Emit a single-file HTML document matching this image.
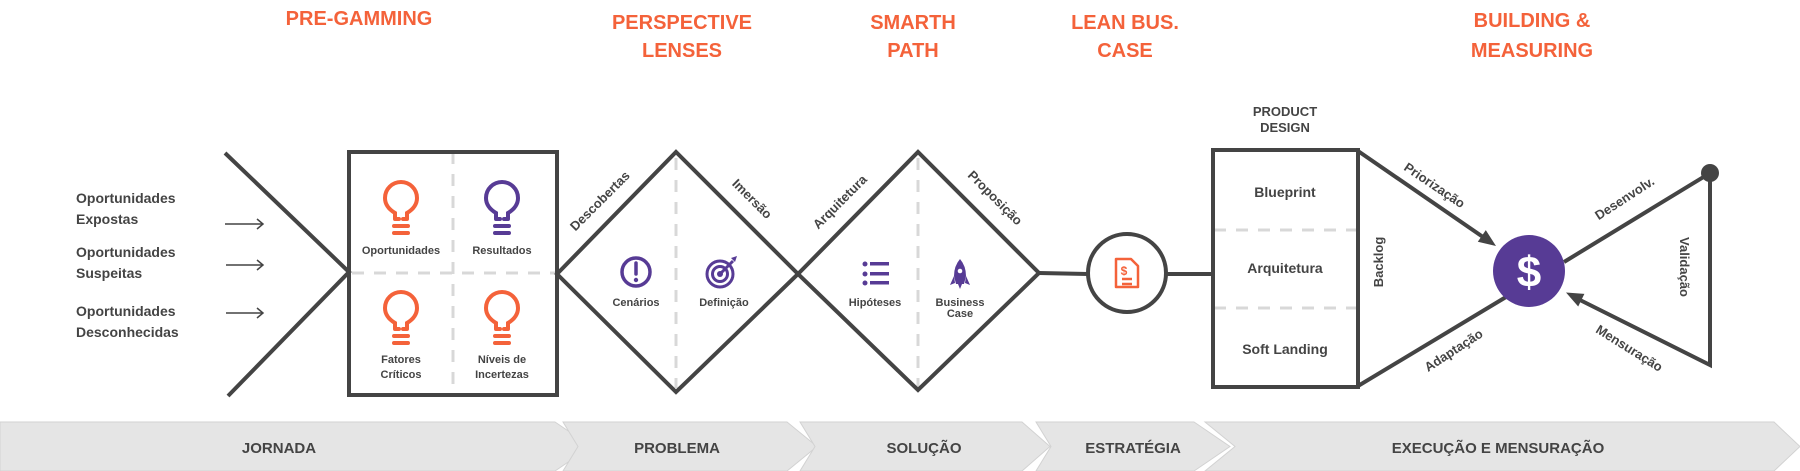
<!DOCTYPE html>
<html><head><meta charset="utf-8"><style>
html,body{margin:0;padding:0;background:#fff;}
svg{display:block}
text{font-family:"Liberation Sans",sans-serif;font-weight:bold;}
</style></head><body>
<svg width="1800" height="471" viewBox="0 0 1800 471" xmlns="http://www.w3.org/2000/svg">
<defs>
<g id="bulb" fill="none" stroke-linecap="round" stroke-width="4">
<path d="M -6 6 V 0 Q -16 -6 -16 -15 A 16 16 0 1 1 16 -15 Q 16 -6 6 0 V 6 M -6 6 H -2 M 6 6 H 2"/>
<path d="M -7 13 H 7 M -7 20 H 7"/>
</g>
</defs>
<g fill="#f4623a" font-size="20" text-anchor="middle">
<text x="359" y="25">PRE-GAMMING</text>
<text x="682" y="29">PERSPECTIVE</text><text x="682" y="57">LENSES</text>
<text x="913" y="29">SMARTH</text><text x="913" y="57">PATH</text>
<text x="1125" y="29">LEAN BUS.</text><text x="1125" y="57">CASE</text>
<text x="1532" y="27">BUILDING &amp;</text><text x="1532" y="57">MEASURING</text>
</g>
<g fill="#444" font-size="14">
<text x="76" y="203">Oportunidades</text><text x="76" y="224">Expostas</text>
<text x="76" y="257">Oportunidades</text><text x="76" y="278">Suspeitas</text>
<text x="76" y="316">Oportunidades</text><text x="76" y="337">Desconhecidas</text>
</g>
<g stroke="#444" stroke-width="1.5" fill="none">
<path d="M225 224 H263 M257 219 L263 224 L257 229"/>
<path d="M226 265 H263 M257 260 L263 265 L257 270"/>
<path d="M226 313 H263 M257 308 L263 313 L257 318"/>
</g>
<g stroke="#d8d8d8" stroke-width="3" stroke-dasharray="12 10" fill="none">
<path d="M453 152 V395"/><path d="M352 273 H556"/>
<path d="M676 158 V388"/><path d="M918 158 V388"/>
<path d="M1214 230 H1356"/><path d="M1214 308 H1356"/>
</g>
<g stroke="#444" stroke-width="4" fill="none" stroke-linejoin="miter">
<path d="M225 153 L349 272 L228 396"/>
<rect x="349" y="152" width="208" height="243"/>
<path d="M557 274 L676 152 L798 274 L676 392 Z"/>
<path d="M798 274 L918 152 L1039 273 L918 390 Z"/>
<path d="M1039 273 L1088 274 M1166 274 H1213"/>
<circle cx="1127" cy="273" r="39"/>
<rect x="1213" y="150" width="145" height="237"/>
<path d="M1358 151 L1483 237"/>
<path d="M1358 386 L1506 297"/>
<path d="M1564 262 L1710 173 V365 L1580 300"/>
</g>
<circle cx="1710" cy="173" r="9" fill="#444"/>
<path d="M1496 246 L1477.8 241.7 L1485.8 230.1 Z" fill="#444"/>
<path d="M1566 292.5 L1584.4 293.9 L1578.2 306.5 Z" fill="#444"/>
<circle cx="1529" cy="271" r="36" fill="#573b95"/>
<text x="1529" y="287" fill="#fff" font-size="44" text-anchor="middle">$</text>
<use href="#bulb" x="401" y="213" stroke="#f4623a"/>
<use href="#bulb" x="502" y="213" stroke="#573b95"/>
<use href="#bulb" x="401" y="323" stroke="#f4623a"/>
<use href="#bulb" x="502" y="323" stroke="#f4623a"/>
<g fill="#444" font-size="11" text-anchor="middle">
<text x="401" y="254">Oportunidades</text><text x="502" y="254">Resultados</text>
<text x="401" y="363">Fatores</text><text x="401" y="378">Críticos</text>
<text x="502" y="363">Níveis de</text><text x="502" y="378">Incertezas</text>
<text x="636" y="306">Cenários</text><text x="724" y="306">Definição</text>
<text x="875" y="306">Hipóteses</text>
<text x="960" y="306">Business</text><text x="960" y="317">Case</text>
</g>
<circle cx="636" cy="272" r="14" fill="none" stroke="#573b95" stroke-width="3.5"/>
<path d="M636 263 V274" stroke="#573b95" stroke-width="3.5" stroke-linecap="round"/>
<circle cx="636" cy="280" r="2.2" fill="#573b95"/>
<g fill="none" stroke="#573b95" stroke-width="3">
<circle cx="720" cy="274" r="13"/><circle cx="720" cy="274" r="7.5"/>
<path d="M720 274 L733 261"/>
</g>
<circle cx="720" cy="274" r="3" fill="#573b95"/>
<path d="M731 258 L737 256 L735 262 Z" fill="#573b95"/>
<g fill="#573b95">
<circle cx="865" cy="264" r="2.5"/><circle cx="865" cy="274" r="2.5"/><circle cx="865" cy="283" r="2.5"/>
<rect x="870" y="262" width="19" height="3.5"/><rect x="870" y="272" width="19" height="3.5"/><rect x="870" y="281" width="19" height="3.5"/>
<path d="M960 259 Q966 266 966 276 L964 284 H956 L954 276 Q954 266 960 259 Z"/>
<path d="M954 276 L950 285 L955 283 Z M966 276 L970 285 L965 283 Z"/>
<path d="M958 284 H962 L960 289 Z"/>
</g>
<circle cx="960" cy="271" r="2.3" fill="#fff"/>
<g fill="none" stroke="#f4623a" stroke-width="2.5" stroke-linejoin="round">
<path d="M1119 259 H1131 L1138 266 V287 H1116 V259 Z"/>
<path d="M1122 279 H1132 M1122 284 H1132"/>
</g>
<text x="1124" y="275" fill="#f4623a" font-size="12" text-anchor="middle">$</text>
<g fill="#444" font-size="13" text-anchor="middle">
<text transform="translate(603,204) rotate(-45)">Descobertas</text>
<text transform="translate(749,202) rotate(45)">Imersão</text>
<text transform="translate(843,205) rotate(-45)">Arquitetura</text>
<text transform="translate(992,201) rotate(45)">Proposição</text>
<text transform="translate(1432,189) rotate(34)">Priorização</text>
<text transform="translate(1627,202) rotate(-33)">Desenvolv.</text>
<text transform="translate(1680,267) rotate(90)">Validação</text>
<text transform="translate(1627,352) rotate(32)">Mensuração</text>
<text transform="translate(1456,354) rotate(-33)">Adaptação</text>
<text transform="translate(1383,262) rotate(-90)">Backlog</text>
</g>
<g fill="#444" text-anchor="middle">
<text x="1285" y="116" font-size="13">PRODUCT</text><text x="1285" y="132" font-size="13">DESIGN</text>
<text x="1285" y="197" font-size="14">Blueprint</text>
<text x="1285" y="273" font-size="14">Arquitetura</text>
<text x="1285" y="354" font-size="14">Soft Landing</text>
</g>
<g fill="#e5e5e5" stroke="#d2d2d2" stroke-width="1">
<path d="M0 422 H555 L591 446.5 L555 471 H0 Z"/>
<path d="M563 422 H787 L817 446.5 L787 471 H563 L578 446.5 Z"/>
<path d="M800 422 H1022 L1050 446.5 L1022 471 H800 L815 446.5 Z"/>
<path d="M1036 422 H1194 L1230 446.5 L1194 471 H1036 L1051 446.5 Z"/>
<path d="M1205 422 H1774 L1800 446.5 L1774 471 H1205 L1235 446.5 Z"/>
</g>
<g fill="#444" font-size="15" text-anchor="middle">
<text x="279" y="453">JORNADA</text>
<text x="677" y="453">PROBLEMA</text>
<text x="924" y="453">SOLUÇÃO</text>
<text x="1133" y="453">ESTRATÉGIA</text>
<text x="1498" y="453">EXECUÇÃO E MENSURAÇÃO</text>
</g>
</svg>
</body></html>
